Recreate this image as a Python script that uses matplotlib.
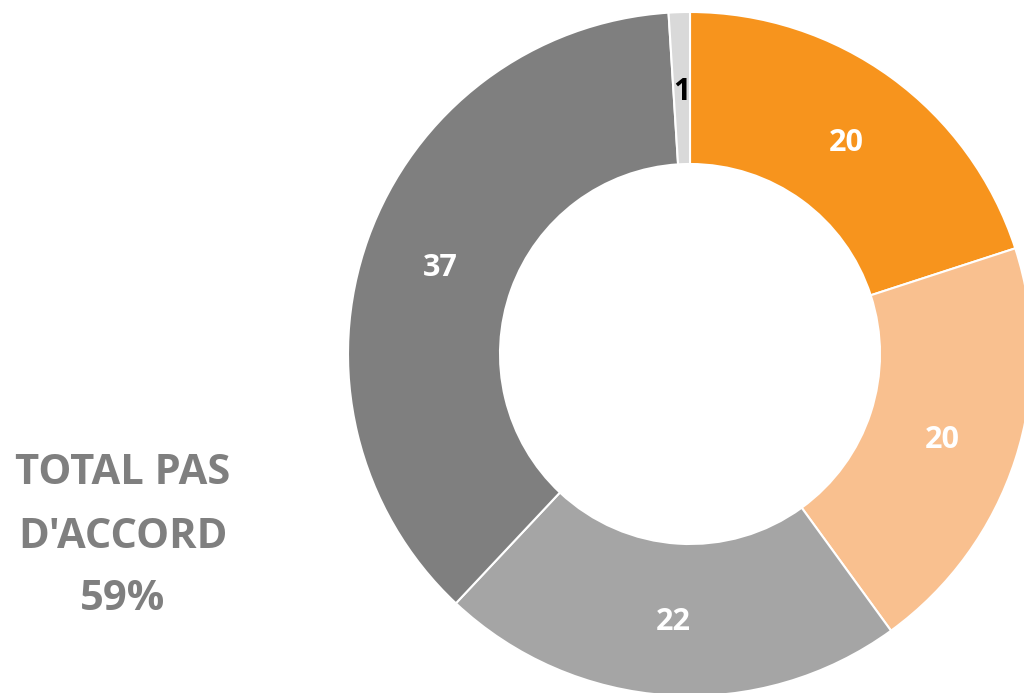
import matplotlib.pyplot as plt

values = [20, 20, 22, 37, 1]
colors = ['#F7941D', '#F9C08F', '#A5A5A5', '#7F7F7F', '#D9D9D9']
label_colors = ['white', 'white', 'white', 'white', 'black']
side_text = ["TOTAL PAS", "D'ACCORD", "59%"]

plt.rcParams['font.family'] = ['Open Sans', 'DejaVu Sans']

fig = plt.figure(figsize=(10.24, 6.93), dpi=100)
ax = fig.add_axes([0, 0, 1, 1])

# donut, drawn in pixel units
wedges, texts = ax.pie(values, colors=colors, startangle=90, counterclock=False,
                       center=(690, 339), radius=342, labels=[str(v) for v in values],
                       labeldistance=0.776,
                       wedgeprops=dict(width=152, edgecolor='white', linewidth=1.5),
                       textprops=dict(fontsize=22, fontweight='bold'))
for t, c in zip(texts, label_colors):
    t.set_color(c)
    t.set_ha('center')
    t.set_va('center_baseline')

# pie() resets the limits, so set them afterwards
ax.set_xlim(0, 1024)
ax.set_ylim(0, 693)
ax.set_aspect('equal')
ax.axis('off')

for i, line in enumerate(side_text):
    ax.text(123, 693 - 474 - i * 63, line, ha='center', va='center',
            fontsize=30, fontweight='bold', color='#7F7F7F')

fig.savefig('out.png', dpi=100)
